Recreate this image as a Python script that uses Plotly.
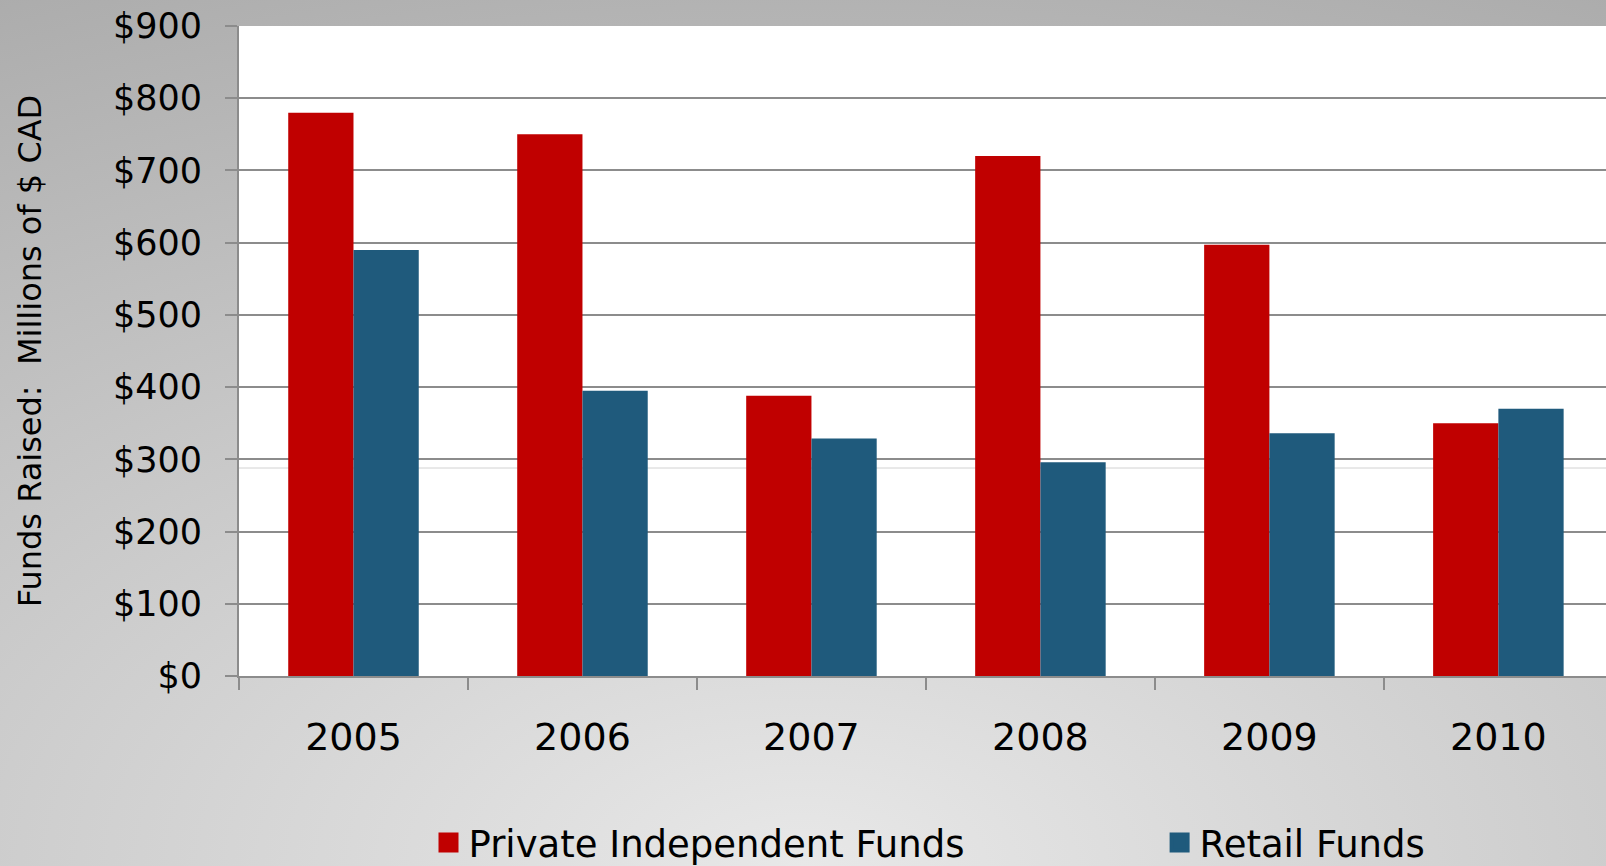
import base64
import plotly.graph_objects as go

# ---- data ----
years = ["2005", "2006", "2007", "2008", "2009", "2010"]
private_independent = [780, 750, 388, 720, 597, 350]
retail = [590, 395, 329, 296, 336, 370]
series_names = ["Private Independent Funds", "Retail Funds"]
y_tickvals = [0, 100, 200, 300, 400, 500, 600, 700, 800, 900]
y_ticktext = ["$0", "$100", "$200", "$300", "$400", "$500", "$600", "$700", "$800", "$900"]
y_title = "Funds Raised:  Millions of $ CAD"

RED = "#c00000"
BLUE = "#1f5a7c"
GRID = "#8c8c8c"
FONT = "DejaVu Sans"

W, H = 1606, 866
L, T, B = 239, 26, 190
PW, PH = W - L, H - T - B

fig = go.Figure()
fig.add_trace(go.Bar(x=years, y=private_independent, name=series_names[0],
                     marker=dict(color=RED, line=dict(width=0)), showlegend=False))
fig.add_trace(go.Bar(x=years, y=retail, name=series_names[1],
                     marker=dict(color=BLUE, line=dict(width=0)), showlegend=False))
# legend entries with larger square swatches, one legend per entry
for nm, c, lg in zip(series_names, [RED, BLUE], ["legend", "legend2"]):
    fig.add_trace(go.Scatter(x=[None], y=[None], mode="markers", name=nm, legend=lg,
                             marker=dict(symbol="square", size=16, color=c,
                                         line=dict(width=4, color=c))))

svg = f'''<svg xmlns="http://www.w3.org/2000/svg" width="{W}" height="{H}" viewBox="0 0 {W} {H}" preserveAspectRatio="none">
<defs><radialGradient id="g" cx="0.5" cy="1.0" r="1.2" gradientUnits="objectBoundingBox">
<stop offset="0" stop-color="#e8e8e8"/><stop offset="1" stop-color="#a8a8a8"/></radialGradient></defs>
<rect x="0" y="0" width="{W}" height="{H}" fill="url(#g)"/></svg>'''
src = "data:image/svg+xml;base64," + base64.b64encode(svg.encode()).decode()

legend_common = dict(orientation="h", xref="container", yref="container",
                     xanchor="left", yanchor="middle", y=(H - 843) / H,
                     font=dict(family=FONT, size=37, color="#000000"),
                     bgcolor="rgba(0,0,0,0)", borderwidth=0)

fig.update_layout(
    width=W, height=H,
    margin=dict(l=L, r=0, t=T, b=B, pad=0),
    paper_bgcolor="#c8c8c8",
    plot_bgcolor="rgba(0,0,0,0)",
    barmode="group", bargap=0.43, bargroupgap=0,
    font=dict(family=FONT, color="#000000"),
    images=[dict(source=src, xref="paper", yref="paper",
                 x=-L / PW, y=1 + T / PH, sizex=W / PW, sizey=H / PH,
                 xanchor="left", yanchor="top", sizing="stretch", layer="below")],
    shapes=[
        dict(type="rect", xref="paper", yref="paper", x0=0, x1=1, y0=0, y1=1,
             fillcolor="white", line=dict(width=0), layer="below"),
        dict(type="line", xref="paper", yref="y", x0=0, x1=1, y0=288, y1=288,
             line=dict(color="#d2d2d2", width=1), layer="below"),
    ],
    legend=dict(x=428.5 / W, **legend_common),
    legend2=dict(x=1159.6 / W, **legend_common),
    showlegend=True,
)

fig.update_xaxes(
    type="category", range=[-0.5, 5.47], automargin=False,
    showgrid=False, showline=True, linecolor=GRID, linewidth=2,
    ticks="outside", tickson="boundaries", ticklen=12, tickwidth=2, tickcolor=GRID,
    tickfont=dict(family=FONT, size=38, color="#000000"),
    ticklabelstandoff=26, zeroline=False, fixedrange=True,
)
fig.update_yaxes(
    range=[0, 900], tickvals=y_tickvals, ticktext=y_ticktext, automargin=False,
    showgrid=True, gridcolor=GRID, gridwidth=2,
    showline=True, linecolor=GRID, linewidth=2,
    ticks="outside", ticklen=12, tickwidth=2, tickcolor=GRID,
    tickfont=dict(family=FONT, size=35, color="#000000"),
    ticklabelstandoff=16, zeroline=False,
    title=dict(text=y_title, font=dict(family=FONT, size=32, color="#000000"), standoff=62),
)

fig.write_html("out.html", config={"displayModeBar": False},
               post_script="document.body.style.margin='0';document.body.style.overflow='hidden';")
